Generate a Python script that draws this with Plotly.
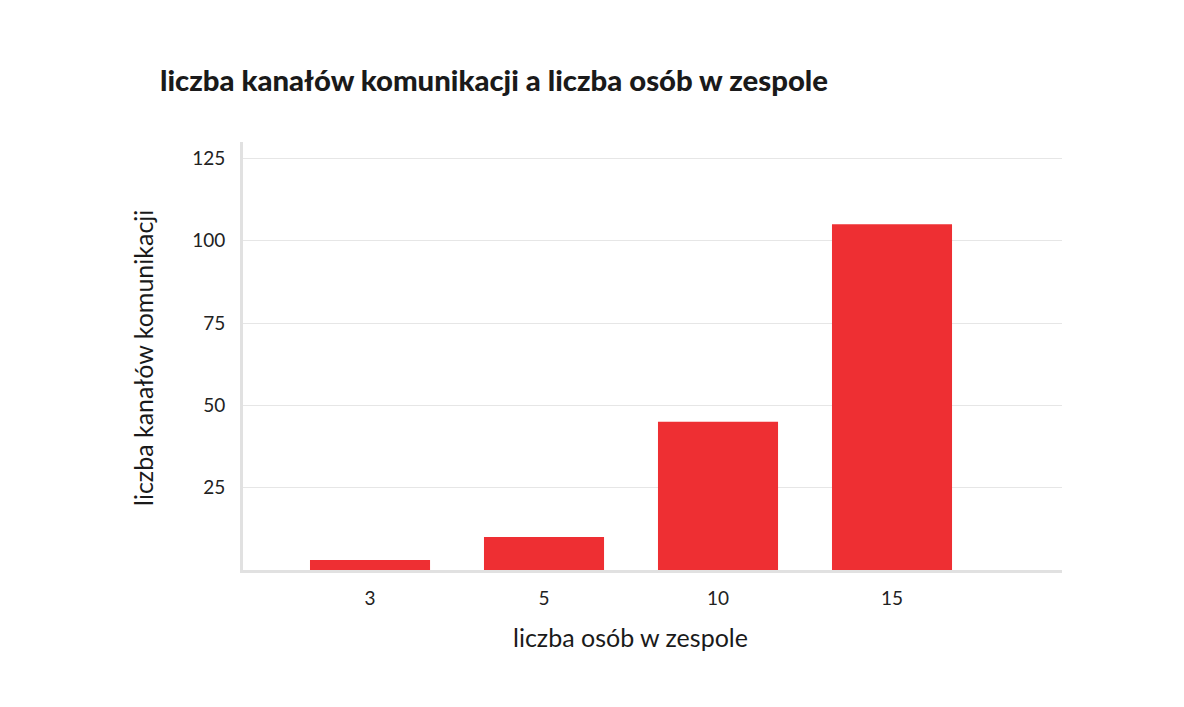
import plotly.graph_objects as go

categories = ["3", "5", "10", "15"]
values = [3, 10, 45, 105]
y_ticks = [25, 50, 75, 100, 125]
y_tick_labels = ["25", "50", "75", "100", "125"]

title_text = "liczba kanałów komunikacji a liczba osób w zespole"
x_title = "liczba osób w zespole"
y_title = "liczba kanałów komunikacji"

W, H = 1184, 707
ml, mr, mt, mb = 243, 122, 142, 137

fig = go.Figure(
    go.Bar(
        x=categories,
        y=values,
        width=0.69,
        marker=dict(color="#EE2F33", line=dict(width=0)),
        hoverinfo="x+y",
    )
)

fig.update_layout(
    width=W,
    height=H,
    margin=dict(l=ml, r=mr, t=mt, b=mb),
    paper_bgcolor="white",
    plot_bgcolor="white",
    font=dict(family="Lato, sans-serif", color="#222222"),
    showlegend=False,
    title=dict(
        text=title_text,
        font=dict(family="Lato, sans-serif", size=29.3, color="#1a1a1a", weight=900),
        xref="container",
        yref="container",
        x=160 / W,
        xanchor="left",
        y=1 - 81 / H,
        yanchor="middle",
    ),
    xaxis=dict(
        type="category",
        range=[-0.730, 3.977],
        showgrid=False,
        showline=True,
        linecolor="#E1E1E1",
        linewidth=3,
        ticks="",
        tickfont=dict(size=19, color="#222222"),
        ticklabelstandoff=9,
        zeroline=False,
        fixedrange=True,
    ),
    yaxis=dict(
        range=[0, 130],
        tickvals=y_ticks,
        ticktext=y_tick_labels,
        showgrid=True,
        gridcolor="#E6E6E6",
        gridwidth=1,
        showline=True,
        linecolor="#E1E1E1",
        linewidth=3,
        ticks="",
        tickfont=dict(size=19, color="#222222"),
        ticklabelstandoff=11,
        zeroline=False,
        fixedrange=True,
    ),
    annotations=[
        dict(
            text=x_title,
            xref="paper",
            yref="paper",
            x=(630 - ml) / (W - ml - mr),
            y=-(637 - (H - mb)) / (H - mt - mb),
            xanchor="center",
            yanchor="middle",
            showarrow=False,
            font=dict(size=25, color="#1a1a1a"),
        ),
        dict(
            text=y_title,
            xref="paper",
            yref="paper",
            x=(143 - ml) / (W - ml - mr),
            y=(H - mb - 358) / (H - mt - mb),
            xanchor="center",
            yanchor="middle",
            textangle=-90,
            showarrow=False,
            font=dict(size=25, color="#1a1a1a"),
        ),
    ],
)

fig.write_html("out.html")
